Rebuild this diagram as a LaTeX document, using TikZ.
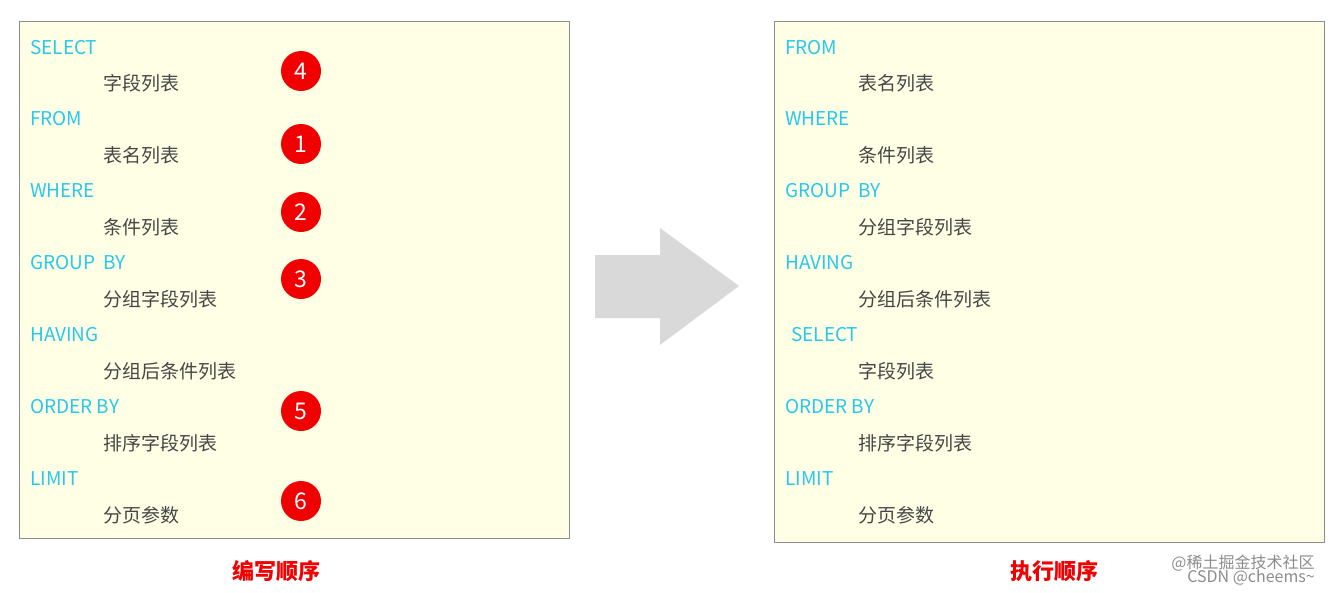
\documentclass[tikz,border=0pt]{standalone}
\usepackage{fontspec}
\setmainfont{Noto Sans CJK SC}
\definecolor{kw}{RGB}{40,200,235}
\definecolor{tx}{RGB}{70,70,70}
\definecolor{boxbg}{RGB}{255,255,230}
\definecolor{rd}{RGB}{240,0,0}
\tikzset{
  panel/.style={draw=black!45,fill=boxbg,line width=0.8pt},
  kwd/.style={anchor=west,text=kw,font=\fontsize{19}{21}\selectfont,inner sep=0},
  itm/.style={anchor=west,text=tx,font=\fontsize{19}{21}\selectfont,inner sep=0},
  num/.style={circle,fill=rd,text=white,minimum size=40pt,inner sep=0,font=\fontsize{23}{24}\selectfont},
  captext/.style={text=rd,font=\bfseries\fontsize{22}{24}\selectfont},
  wm/.style={text=black!45,font=\fontsize{16}{17}\selectfont}
}
\begin{document}
\begin{tikzpicture}[x=1pt,y=-1pt]
\useasboundingbox (0,0) rectangle (1341,592);
\node[panel,minimum width=550pt,minimum height=517pt,anchor=north west,inner sep=0] (L) at (19,21) {};
\node[panel,minimum width=550pt,minimum height=521pt,anchor=north west,inner sep=0] (R) at (774,21) {};
% left
\node[kwd] (l1) at (30,48) {SELECT};
\node[itm] (l2) at (103,83) {字段列表};
\node[kwd] (l3) at (30,119) {FROM};
\node[itm] (l4) at (103,155) {表名列表};
\node[kwd] (l5) at (30,191) {WHERE};
\node[itm] (l6) at (103,227) {条件列表};
\node[kwd] (l7) at (30,263) {GROUP\ \ BY};
\node[itm] (l8) at (103,299) {分组字段列表};
\node[kwd] (l9) at (30,335) {HAVING};
\node[itm] (l10) at (103,371) {分组后条件列表};
\node[kwd] (l11) at (30,407) {ORDER BY};
\node[itm] (l12) at (103,443) {排序字段列表};
\node[kwd] (l13) at (30,479) {LIMIT};
\node[itm] (l14) at (103,515) {分页参数};
\node[num] (n4) at (301,71) {4};
\node[num] (n1) at (301,144) {1};
\node[num] (n2) at (301,212) {2};
\node[num] (n3) at (301,279) {3};
\node[num] (n5) at (301,411) {5};
\node[num] (n6) at (301,501) {6};
% right
\node[kwd] (r1) at (785,48) {FROM};
\node[itm] (r2) at (858,83) {表名列表};
\node[kwd] (r3) at (785,119) {WHERE};
\node[itm] (r4) at (858,155) {条件列表};
\node[kwd] (r5) at (785,191) {GROUP\ \ BY};
\node[itm] (r6) at (858,227) {分组字段列表};
\node[kwd] (r7) at (785,263) {HAVING};
\node[itm] (r8) at (858,299) {分组后条件列表};
\node[kwd] (r9) at (791,335) {SELECT};
\node[itm] (r10) at (858,371) {字段列表};
\node[kwd] (r11) at (785,407) {ORDER BY};
\node[itm] (r12) at (858,443) {排序字段列表};
\node[kwd] (r13) at (785,479) {LIMIT};
\node[itm] (r14) at (858,515) {分页参数};
% arrow
\fill[black!15] (595,255) -- (660,255) -- (660,228) -- (739,286) -- (660,345) -- (660,318) -- (595,318) -- cycle;
\node[captext] (c1) at (276,571) {编写顺序};
\node[captext] (c2) at (1054,571) {执行顺序};
\node[wm] (w1) at (1243,563) {@稀土掘金技术社区};
\node[wm] (w2) at (1251,578) {CSDN @cheems\textasciitilde};
\end{tikzpicture}
\end{document}
